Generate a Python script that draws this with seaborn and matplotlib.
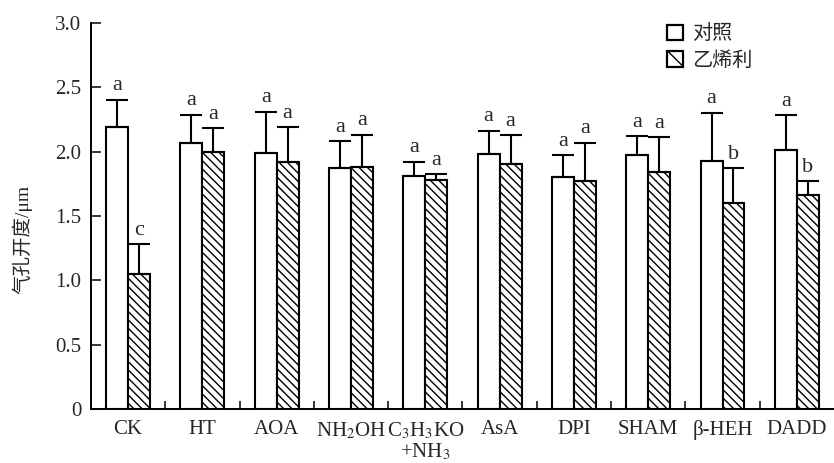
import numpy as np
import pandas as pd
import matplotlib
matplotlib.use("Agg")
import matplotlib.pyplot as plt
import matplotlib.patches as mpatches
import seaborn as sns

categories = ['CK', 'HT', 'AOA', 'NH$_2$OH', 'C$_3$H$_3$KO\n+NH$_3$', 'AsA', 'DPI', 'SHAM', 'β-HEH', 'DADD']
series_names = ['对照', '乙烯利']
control = [2.19, 2.07, 1.99, 1.87, 1.81, 1.98, 1.80, 1.97, 1.93, 2.01]
control_err = [0.21, 0.215, 0.32, 0.21, 0.11, 0.18, 0.17, 0.15, 0.37, 0.27]
ethephon = [1.05, 2.00, 1.92, 1.88, 1.78, 1.90, 1.77, 1.84, 1.60, 1.66]
ethephon_err = [0.23, 0.18, 0.27, 0.25, 0.045, 0.225, 0.30, 0.27, 0.27, 0.11]
control_letters = ['a'] * 10
ethephon_letters = ['c', 'a', 'a', 'a', 'a', 'a', 'a', 'a', 'b', 'b']
yticks = [0, 0.5, 1.0, 1.5, 2.0, 2.5, 3.0]
ytick_labels = ['0', '0.5', '1.0', '1.5', '2.0', '2.5', '3.0']

sns.set_theme(style='white')
plt.rcParams['font.family'] = ['Liberation Serif', 'Noto Sans CJK SC']
plt.rcParams['mathtext.fontset'] = 'stix'
plt.rcParams['hatch.linewidth'] = 1.0

df = pd.DataFrame({
    'treat': categories * 2,
    'value': control + ethephon,
    'group': [series_names[0]] * len(categories) + [series_names[1]] * len(categories),
})

fig = plt.figure(figsize=(8.34, 4.63), dpi=100)
ax = fig.add_axes([0.109, 0.116, 0.891, 0.835])

sns.barplot(data=df, x='treat', y='value', hue='group', order=categories,
            hue_order=series_names, palette=['white', 'white'], edgecolor='black',
            linewidth=1.5, errorbar=None, width=0.59, gap=0, legend=False, ax=ax,
            saturation=1)

for bar in ax.containers[1]:
    bar.set_hatch('\\\\\\\\')

fs = 15
for cont, errs, letters in [(ax.containers[0], control_err, control_letters),
                            (ax.containers[1], ethephon_err, ethephon_letters)]:
    xs = np.array([b.get_x() + b.get_width() / 2 for b in cont])
    hs = np.array([b.get_height() for b in cont])
    errs = np.array(errs)
    ax.errorbar(xs, hs, yerr=[np.zeros_like(errs), errs], fmt='none', ecolor='black',
                elinewidth=1.5, capsize=8, capthick=1.5, zorder=5)
    for x, h, e, l in zip(xs, hs, errs, letters):
        ax.text(x, h + e + 0.035, l, ha='center', va='bottom', fontsize=16)

ax.set_xlim(-0.5, len(categories) - 0.5)
ax.set_ylim(0, 3.0)
ax.set_yticks(yticks)
ax.set_yticklabels(ytick_labels, fontsize=fs)
ax.set_xticks(range(len(categories)))
ax.set_xticklabels(categories, fontsize=fs, linespacing=1.0)
ax.set_xticks(np.arange(0.5, len(categories) - 0.5, 1.0), minor=True)
ax.tick_params(axis='x', which='major', length=0, pad=8)
ax.tick_params(axis='x', which='minor', direction='in', length=6, width=1.3, bottom=True)
ax.tick_params(axis='y', direction='in', length=7, width=1.3, pad=7, left=True)
ax.set_xlabel('')
ax.set_ylabel('气孔开度/μm', fontsize=14)
ax.yaxis.set_label_coords(-0.079, 0.44)

sns.despine(ax=ax)
for s in ['left', 'bottom']:
    ax.spines[s].set_linewidth(1.4)
    ax.spines[s].set_color('black')

handles = [mpatches.Patch(facecolor='white', edgecolor='black', linewidth=1.6, label=series_names[0]),
           mpatches.Patch(facecolor='white', edgecolor='black', linewidth=1.6, hatch='\\\\',
                          label=series_names[1])]
ax.legend(handles=handles, loc='upper left', bbox_to_anchor=(0.775, 0.995), frameon=False,
          fontsize=14.5, handlelength=0.8, handleheight=0.8, handletextpad=0.45,
          labelspacing=0.35, borderaxespad=0, borderpad=0)

fig.savefig('out.png', dpi=100)
